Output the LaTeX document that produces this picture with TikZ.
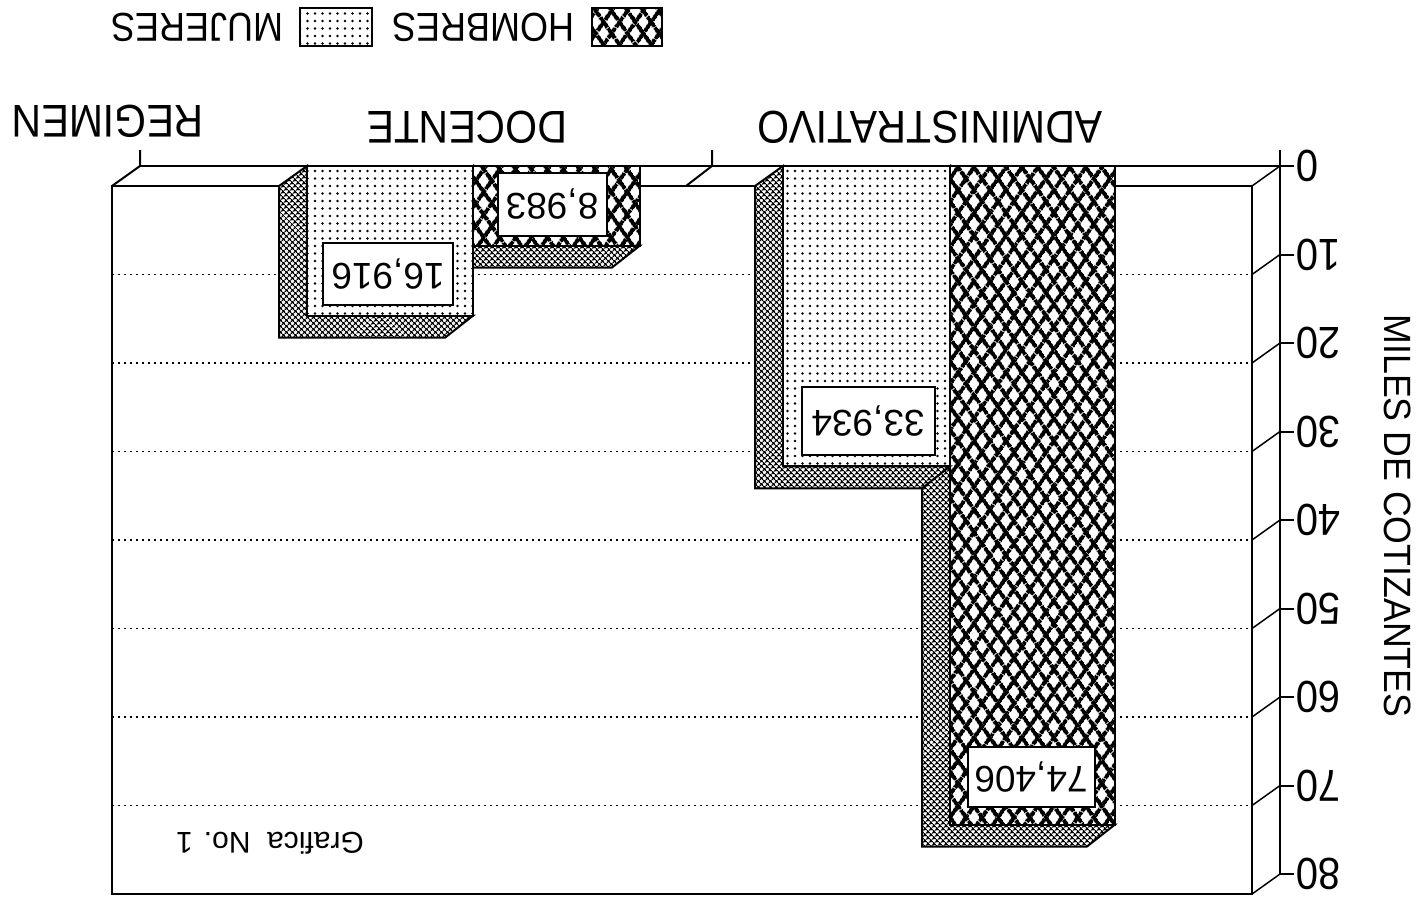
\documentclass[tikz,border=0pt]{standalone}
\usepackage{fontspec}
\setmainfont{Liberation Sans}
\usepackage{graphicx}
\usetikzlibrary{patterns.meta}
\tikzset{
  frame/.style={line width=2pt, black},
  thin/.style={line width=1.5pt, black},
  gridl/.style={line width=1.6pt, dash pattern=on 2pt off 4pt},
  txt/.style={rotate=180, inner sep=0pt},
  numlbl/.style={rotate=180, inner sep=0pt, anchor=east, font=\fontsize{40}{40}\selectfont},
  catlbl/.style={rotate=180, inner sep=0pt, font=\fontsize{41}{41}\selectfont},
  leglbl/.style={rotate=180, inner sep=0pt, font=\fontsize{36}{36}\selectfont},
  valbox/.style={draw, line width=2pt, fill=white, rotate=180, inner sep=0pt, font=\fontsize{37}{37}\selectfont},
  menface/.style={fill=white,
     postaction={pattern={Lines[angle=55,distance=13pt,line width=4.2pt]}},
     postaction={pattern={Lines[angle=125,distance=13pt,line width=4.2pt]}},
     postaction={draw, line width=2pt}},
  womenface/.style={fill=white,
     postaction={pattern={Dots[radius=1.4pt,distance=7.5pt]}},
     postaction={draw, line width=2pt}},
  sideface/.style={fill=white,
     postaction={pattern={Hatch[angle=45,distance=4pt,line width=1.3pt]}},
     postaction={draw, line width=2pt}},
}
\newcommand\sidepart[3]{%
  \path[sideface] (#1,166) -- (#1-28,186) -- (#1-28,#3+22) -- (#2-28,#3+22) -- (#2,#3) -- (#1,#3) -- cycle;}
\newcommand\tall[1]{\scalebox{1}[1.12]{#1}}
\begin{document}
\begin{tikzpicture}[x=1pt,y=-1pt]
\useasboundingbox[fill=white] (0,0) rectangle (1423,906);
% gridlines
\foreach \k in {1,...,7}{
  \draw[gridl] (112,166+\k*88.5+20) -- (1252,166+\k*88.5+20);
}
% diagonals and ticks
\foreach \k in {0,...,8}{
  \draw[thin] (1280,166+\k*88.5) -- (1252,166+\k*88.5+20);
  \draw[frame] (1280,166+\k*88.5) -- (1294,166+\k*88.5);
}
% axis
\draw[frame] (1280,150) -- (1280,874);
% floor line and category ticks
\draw[frame] (140,166) -- (1280,166);
\draw[frame] (140,150) -- (140,166) -- (112,186);
\draw[frame] (712,150) -- (712,166) -- (686,186);
% wall
\draw[frame] (112,186) rectangle (1252,894);
% bars DOCENTE
\sidepart{473}{640}{245.5}
\path[menface] (473,166) rectangle (640,245.5);
\sidepart{307}{473}{315.7}
\path[womenface] (307,166) rectangle (473,315.7);
% bars ADMINISTRATIVO
\sidepart{950}{1115}{824.5}
\path[menface] (950,166) rectangle (1115,824.5);
\sidepart{783}{950}{466.3}
\path[womenface] (783,166) rectangle (950,466.3);
% value labels
\node[valbox, minimum width=109pt, minimum height=63pt] (v1) at (552,204) {8,983};
\node[valbox, minimum width=130pt, minimum height=62pt] (v2) at (388,274) {16,916};
\node[valbox, minimum width=133pt, minimum height=68pt] (v3) at (868,421) {33,934};
\node[valbox, minimum width=127pt, minimum height=60pt] (v4) at (1031,777) {74,406};
% axis numbers
\foreach \k/\t in {0/0,1/10,2/20,3/30,4/40,5/50,6/60,7/70,8/80}{
  \node[numlbl] (n\k) at (1296,166+\k*88.5) {\tall{\t}};
}
\node[rotate=-90, inner sep=0pt, font=\fontsize{38}{38}\selectfont] (ytitle) at (1398,516) {\scalebox{0.94}[1]{MILES DE COTIZANTES}};
% category labels
\node[catlbl] (cadm) at (930,127) {\tall{ADMINISTRATIVO}};
\node[catlbl] (cdoc) at (467,127) {\tall{DOCENTE}};
\node[catlbl] (creg) at (108,121) {\tall{REGIMEN}};
% legend
\path[menface] (592,8) rectangle (662,46);
\node[leglbl] (lh) at (483,27) {\tall{HOMBRES}};
\path[womenface] (300,8) rectangle (372,46);
\node[leglbl] (lm) at (197,27) {\tall{MUJERES}};
% caption
\node[txt, font=\fontsize{30}{30}\selectfont] (cap) at (270,843) {Grafica\ \ No. 1};
\end{tikzpicture}
\end{document}
